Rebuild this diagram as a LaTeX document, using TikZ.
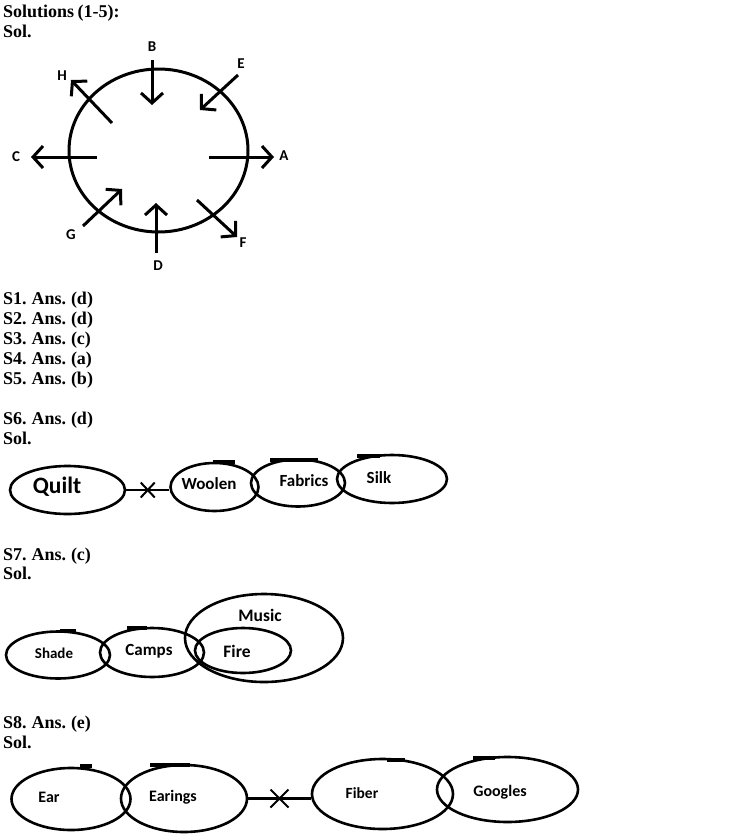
\documentclass[tikz,border=0pt]{standalone}
\usepackage{fontspec}
\setmainfont{Liberation Serif}
\newfontfamily\labfont{Carlito}
\newcommand\headfont{\fontsize{18}{20}\selectfont\bfseries\spaceskip=3.4pt\relax}
\usetikzlibrary{arrows.meta,shapes.geometric,shapes.misc}
\begin{document}
\begin{tikzpicture}[x=1pt,y=-1pt,
  head/.style={anchor=base west,inner sep=0pt,font=\headfont},
  ell/.style={draw,ellipse,line width=2.6pt,inner sep=0pt},
  txt/.style={inner sep=0pt,font=\labfont\bfseries\fontsize{#1}{#1}\selectfont},
  txt/.default=17,
  dirlab/.style={inner sep=0pt,font=\labfont\bfseries\fontsize{15}{15}\selectfont},
  dirarrow/.style={line width=3pt,-{Straight Barb[length=10pt,width=22pt]}},
  conn/.style={line width=2.4pt},
  crossmark/.style={draw,cross out,line width=2pt,minimum width=12pt,minimum height=13pt,inner sep=0pt},
  blip/.style={line width=3.2pt}
]
\useasboundingbox (0,0) rectangle (734,836);

% headings
\node[head] (h0) at (3,17) {Solutions (1-5):};
\node[head] (h0s) at (3,37) {Sol.};
\node[head] (s1) at (3,304) {S1. Ans. (d)};
\node[head] (s2) at (3,324) {S2. Ans. (d)};
\node[head] (s3) at (3,344) {S3. Ans. (c)};
\node[head] (s4) at (3,364) {S4. Ans. (a)};
\node[head] (s5) at (3,384) {S5. Ans. (b)};
\node[head] (s6) at (3,424) {S6. Ans. (d)};
\node[head] (s6s) at (3,444) {Sol.};
\node[head] (s7) at (3,560) {S7. Ans. (c)};
\node[head] (s7s) at (3,579) {Sol.};
\node[head] (s8) at (3,728) {S8. Ans. (e)};
\node[head] (s8s) at (3,748) {Sol.};

% circle with arrows
\node[ell,line width=3pt,minimum width=179pt,minimum height=163pt] (ring) at (158.5,150.5) {};
\coordinate (a1) at (209,157); \coordinate (a2) at (274,157);
\coordinate (b1) at (152,60);  \coordinate (b2) at (152,105);
\coordinate (c1) at (97,157);  \coordinate (c2) at (31,157);
\coordinate (d1) at (156,253); \coordinate (d2) at (156,203);
\coordinate (e1) at (238,75);  \coordinate (e2) at (200,110);
\coordinate (f1) at (197,200); \coordinate (f2) at (237,237);
\coordinate (g1) at (83,226);  \coordinate (g2) at (122,189);
\coordinate (h1) at (112,123); \coordinate (h2) at (71,80);
\draw[dirarrow] (a1) -- (a2);
\draw[dirarrow] (b1) -- (b2);
\draw[dirarrow] (c1) -- (c2);
\draw[dirarrow] (d1) -- (d2);
\draw[dirarrow] (e1) -- (e2);
\draw[dirarrow] (f1) -- (f2);
\draw[dirarrow] (g1) -- (g2);
\draw[dirarrow] (h1) -- (h2);
\node[dirlab] (la) at (284,156) {A};
\node[dirlab] (lb) at (152,47) {B};
\node[dirlab] (lc) at (16,157) {C};
\node[dirlab] (ld) at (158,266) {D};
\node[dirlab] (le) at (241,64) {E};
\node[dirlab] (lf) at (243,243) {F};
\node[dirlab] (lg) at (71,235) {G};
\node[dirlab] (lh) at (62,76) {H};

% S6
\node[ell,minimum width=115pt,minimum height=48pt] (quilt) at (67.5,490) {};
\node[ell,minimum width=88pt,minimum height=48pt] (woolen) at (214.5,487) {};
\node[ell,minimum width=94pt,minimum height=47pt] (fabrics) at (298,483) {};
\node[ell,minimum width=110pt,minimum height=48pt] (silk) at (392,479) {};
\node[txt=23.5] (tquilt) at (57,487) {Quilt};
\node[txt=17] (twoolen) at (209,484) {Woolen};
\node[txt=17] (tfabrics) at (304,481) {Fabrics};
\node[txt=17] (tsilk) at (379,478) {Silk};
\draw[conn] (quilt.east) -- (quilt.east -| woolen.west) coordinate[midway] (x6);
\node[crossmark] (cross6) at (x6) {};
\draw[blip] (213,462) -- (235,462);
\draw[blip] (270,460) -- (318,460);
\draw[blip] (357,456) -- (380,456);

% S7
\node[ell,minimum width=104pt,minimum height=47pt] (shade) at (58,655) {};
\node[ell,minimum width=104pt,minimum height=49pt] (camps) at (152,652.5) {};
\node[ell,minimum width=158pt,minimum height=88pt] (music) at (264,638) {};
\node[ell,minimum width=96pt,minimum height=45pt] (fire) at (243,650.5) {};
\node[txt=15] (tshade) at (54,653) {Shade};
\node[txt=17] (tcamps) at (149,651) {Camps};
\node[txt=17.5] (tmusic) at (260,615) {Music};
\node[txt=17.5] (tfire) at (237,651) {Fire};
\draw[blip] (60,631) -- (76,631);
\draw[blip] (127,628) -- (147,628);

% S8
\node[ell,minimum width=119pt,minimum height=62pt] (ear) at (71,799) {};
\node[ell,minimum width=126pt,minimum height=67pt] (earings) at (184,798.5) {};
\node[ell,minimum width=141pt,minimum height=70pt] (fiber) at (382.5,794) {};
\node[ell,minimum width=141pt,minimum height=65pt] (googles) at (507.5,789.5) {};
\node[txt=16] (tear) at (49,797) {Ear};
\node[txt=16] (tearings) at (173,797) {Earings};
\node[txt=15.5] (tfiber) at (362,793) {Fiber};
\node[txt=16] (tgoogles) at (500,792) {Googles};
\draw[conn] (earings.east) -- (earings.east -| fiber.west) coordinate[midway] (x8);
\node[crossmark,minimum width=16pt,minimum height=16pt] (cross8) at (x8) {};
\draw[blip] (80,766) -- (92,766);
\draw[blip] (150,765) -- (190,765);
\draw[blip] (387,760) -- (405,760);
\draw[blip] (473,758) -- (495,758);
\end{tikzpicture}
\end{document}
